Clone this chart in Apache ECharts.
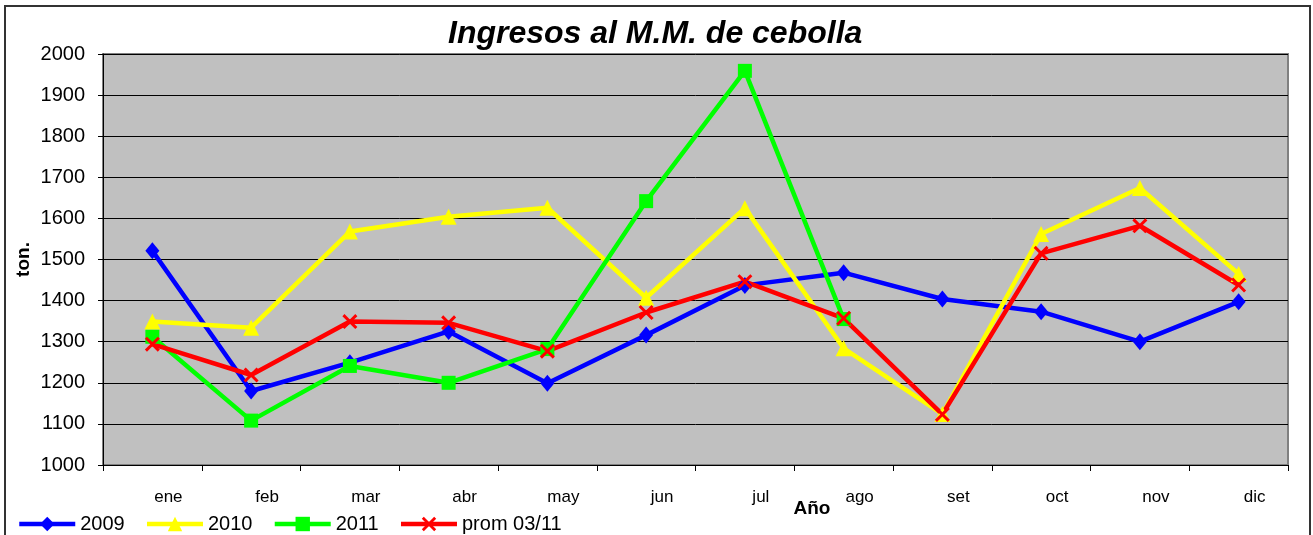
<!DOCTYPE html>
<html>
<head>
<meta charset="utf-8">
<script src="https://cdn.jsdelivr.net/npm/echarts@6/dist/echarts.min.js"></script>
<style>
  html, body { margin: 0; padding: 0; background: #fff; }
  #chart { width: 1313px; height: 535px; }
</style>
</head>
<body>
<div id="chart"></div>
<script>
const months = ['ene', 'feb', 'mar', 'abr', 'may', 'jun', 'jul', 'ago', 'set', 'oct', 'nov', 'dic'];
const y2009 = [1521, 1180, 1249, 1325, 1199, 1316, 1437, 1468, 1404, 1373, 1300, 1397];
const y2010 = [1349, 1334, 1568, 1604, 1626, 1407, 1625, 1284, 1124, 1562, 1674, 1465];
const y2011 = [1312, 1108, 1241, 1200, 1282, 1642, 1959, 1355, null, null, null, null];
const prom = [1294, 1219, 1349, 1346, 1277, 1371, 1446, 1357, 1123, 1515, 1582, 1438];

const FONT = "'Liberation Sans', Arial, sans-serif";
const xMark = 'path://M0,1.4 L1.4,0 L5,3.6 L8.6,0 L10,1.4 L6.4,5 L10,8.6 L8.6,10 L5,6.4 L1.4,10 L0,8.6 L3.6,5 Z';

function lineSeries(name, data, color, symbol, size) {
  return {
    name: name,
    type: 'line',
    data: data,
    symbol: symbol,
    symbolSize: size,
    showAllSymbol: true,
    connectNulls: false,
    lineStyle: { color: color, width: 4.5 },
    itemStyle: { color: color },
    emphasis: { disabled: true }
  };
}

const chart = echarts.init(document.getElementById('chart'));
chart.setOption({
  animation: false,
  textStyle: { fontFamily: FONT },
  title: {
    text: 'Ingresos al M.M. de cebolla',
    left: 443,
    top: 13,
    textStyle: { fontFamily: FONT, fontSize: 32, fontWeight: 'bold', fontStyle: 'italic', color: '#000' }
  },
  legend: {
    left: 17,
    top: 514,
    padding: 0,
    itemWidth: 56,
    itemHeight: 18,
    itemGap: 20,
    lineStyle: { width: 4.5 },
    textStyle: { fontFamily: FONT, fontSize: 20, color: '#000' },
    data: ['2009', '2010', '2011', 'prom 03/11']
  },
  grid: {
    left: 103,
    top: 54,
    right: 25,
    bottom: 70,
    show: true,
    backgroundColor: '#C0C0C0',
    borderColor: '#808080',
    borderWidth: 2
  },
  xAxis: {
    type: 'category',
    data: months,
    boundaryGap: true,
    axisLine: { lineStyle: { color: '#000', width: 1 } },
    axisTick: { show: true, length: 6, lineStyle: { color: '#000' } },
    axisLabel: {
      interval: 0,
      margin: 24,
      padding: [0, 0, 0, 32],
      fontFamily: FONT,
      fontSize: 17,
      color: '#000'
    },
    splitLine: { show: false }
  },
  yAxis: {
    type: 'value',
    min: 1000,
    max: 2000,
    interval: 100,
    name: 'ton.',
    nameLocation: 'middle',
    nameRotate: 90,
    nameGap: 70,
    nameMoveOverlap: false,
    nameTextStyle: { fontFamily: FONT, fontSize: 19, fontWeight: 'bold', color: '#000' },
    axisLine: { show: true, lineStyle: { color: '#000', width: 1 } },
    axisTick: { show: true, length: 5, lineStyle: { color: '#000' } },
    axisLabel: {
      margin: 18,
      fontFamily: FONT,
      fontSize: 20,
      color: '#000',
      formatter: function (v) { return String(v); }
    },
    splitLine: { show: true, lineStyle: { color: '#000', width: 1 } }
  },
  graphic: [
    {
      type: 'rect',
      shape: { x: 5, y: 6, width: 1305, height: 545 },
      style: { fill: 'none', stroke: '#333', lineWidth: 2 },
      silent: true,
      z: -10
    },
    {
      type: 'text',
      x: 812,
      y: 509,
      style: {
        text: 'Año',
        fontFamily: FONT,
        fontSize: 19,
        fontWeight: 'bold',
        fill: '#000',
        textAlign: 'center',
        textVerticalAlign: 'middle'
      }
    }
  ],
  series: [
    lineSeries('2009', y2009, '#0000FF', 'diamond', [14, 17]),
    lineSeries('2010', y2010, '#FFFF00', 'triangle', 16),
    lineSeries('2011', y2011, '#00FF00', 'rect', 14),
    lineSeries('prom 03/11', prom, '#FF0000', xMark, 15)
  ]
});
</script>
</body>
</html>
